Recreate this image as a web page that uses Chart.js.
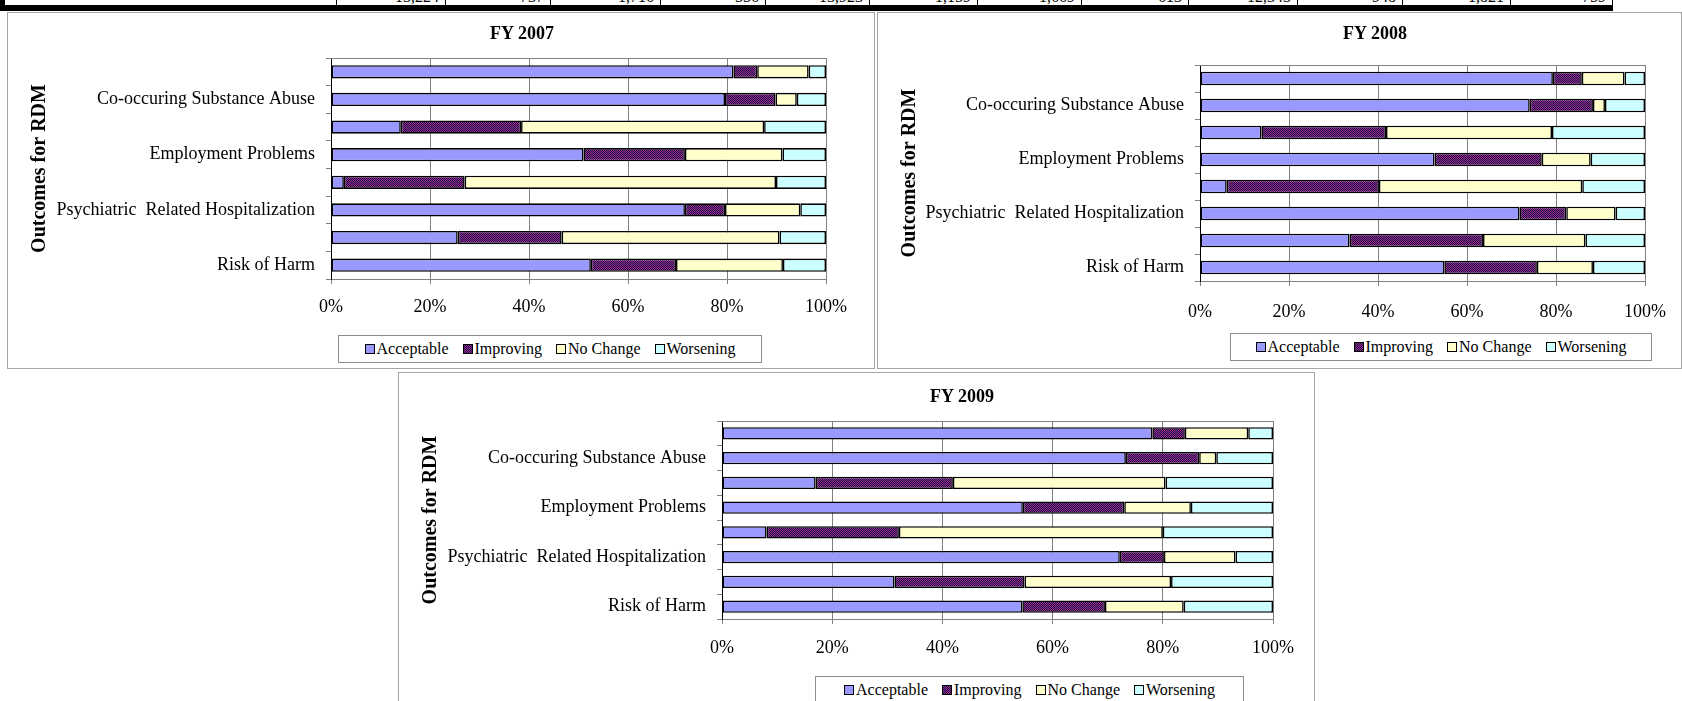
<!DOCTYPE html>
<html>
<head>
<meta charset="utf-8">
<script src="https://cdn.jsdelivr.net/npm/chart.js@4.4.1/dist/chart.umd.min.js"></script>
<style>
    body {
        margin: 0;
        width: 1682px;
        height: 701px;
        overflow: hidden;
        position: relative;
        background: #fff;
        font-family: "Liberation Serif", "Times New Roman", serif;
    }
    .frame {
        position: absolute;
        border: 1px solid #a6a6a6;
        box-sizing: border-box;
        background: #fff;
    }
    canvas { position: absolute; }
    .title {
        position: absolute;
        transform: translate(-50%, -50%);
        font-weight: bold;
        font-size: 18px;
        white-space: nowrap;
    }
    .legend {
        position: absolute;
        box-sizing: border-box;
        border: 1px solid #8c8c8c;
        background: #fff;
        display: flex;
        align-items: center;
        justify-content: center;
        gap: 14px;
        font-size: 16px;
    }
    .legend .item { display: flex; align-items: center; gap: 2px; }
    .legend .swatch { width: 8px; height: 8px; border: 1px solid #000; }
    #tableStrip {
        position: absolute;
        left: 0;
        top: 0;
        width: 1613px;
        height: 11px;
        box-sizing: border-box;
        border-left: 5px solid #000;
        border-bottom: 6px solid #000;
        overflow: hidden;
    }
    #tableStrip .cell {
        position: absolute;
        top: 0;
        height: 5px;
        box-sizing: border-box;
        border-right: 1px solid #000;
        overflow: hidden;
    }
    #tableStrip .cell span {
        position: absolute;
        right: 6px;
        top: -12px;
        font-size: 16px;
        line-height: 18px;
    }
</style>
</head>
<body>

<div id="tableStrip"></div>

<div class="frame" style="left:7px; top:12px; width:868px; height:357px;"></div>
<div class="frame" style="left:877px; top:12px; width:805px; height:357px;"></div>
<div class="frame" style="left:398px; top:372px; width:917px; height:340px;"></div>

<canvas id="chart2007" width="865" height="354" style="left:8px; top:13px;"></canvas>
<canvas id="chart2008" width="803" height="354" style="left:878px; top:13px;"></canvas>
<canvas id="chart2009" width="914" height="328" style="left:399px; top:373px;"></canvas>

<div class="title" style="left:522px; top:33px;">FY 2007</div>
<div class="title" style="left:1375px; top:33px;">FY 2008</div>
<div class="title" style="left:962px; top:396px;">FY 2009</div>

<div class="legend" id="legend2007" style="left:338px; top:335px; width:424px; height:28px;"></div>
<div class="legend" id="legend2008" style="left:1230px; top:333px; width:422px; height:28px;"></div>
<div class="legend" id="legend2009" style="left:815px; top:676px; width:429px; height:28px;"></div>

<script>
// ---- data ----
const categories = [
    "",
    "Co-occuring Substance Abuse",
    "",
    "Employment Problems",
    "",
    "Psychiatric  Related Hospitalization",
    "",
    "Risk of Harm",
];
const seriesNames = ["Acceptable", "Improving", "No Change", "Worsening"];
const xTicks = [0, 20, 40, 60, 80, 100];

const acceptable2007 = [81.3, 79.6, 14.1, 51.0, 2.6, 71.5, 25.6, 52.5];
const improving2007 = [4.8, 10.2, 24.3, 20.5, 24.4, 8.1, 21.0, 17.2];
const noChange2007 = [10.4, 4.3, 49.1, 19.7, 62.9, 15.2, 44.0, 21.6];
const worsening2007 = [3.5, 5.9, 12.5, 8.8, 10.1, 5.2, 9.4, 8.7];

const acceptable2008 = [79.3, 74.1, 13.8, 52.7, 6.0, 71.8, 33.6, 54.9];
const improving2008 = [6.5, 14.2, 28.0, 24.1, 34.2, 10.5, 30.0, 20.8];
const noChange2008 = [9.6, 2.7, 37.3, 11.0, 45.7, 11.1, 23.0, 12.6];
const worsening2008 = [4.6, 9.0, 20.9, 12.2, 14.1, 6.6, 13.4, 11.7];

const acceptable2009 = [78.1, 73.3, 17.0, 54.6, 8.1, 72.2, 31.3, 54.5];
const improving2009 = [5.9, 13.3, 24.9, 18.4, 24.0, 8.0, 23.6, 15.0];
const noChange2009 = [11.5, 3.1, 38.6, 12.1, 47.9, 13.0, 26.6, 14.3];
const worsening2009 = [4.5, 10.3, 19.5, 14.9, 20.0, 6.8, 18.5, 16.2];

// bottom edge of the table above the charts (cut off by the page)
const tableRow = ["13,224", "737", "1,716", "556", "13,923", "1,159", "1,669", "613", "12,343", "948", "1,821", "759"];
const tableColEdges = [337, 446, 551, 661, 766, 870, 978, 1082, 1189, 1298, 1403, 1511, 1613];

/* ==========================================================================
TABLE STRIP
========================================================================== */
const strip = document.getElementById("tableStrip");
tableRow.forEach((txt, i) => {
    const left = tableColEdges[i] - 5;
    const w = tableColEdges[i + 1] - tableColEdges[i];
    strip.innerHTML += `<div class="cell" style="left:${left}px; width:${w}px;"><span>${txt}</span></div>`;
});
strip.innerHTML += `<div class="cell" style="left:0; width:${tableColEdges[0] - 5}px;"></div>`;

/* ==========================================================================
CHARTS
========================================================================== */
Chart.defaults.font.family = "'Liberation Serif', 'Times New Roman', serif";
Chart.defaults.font.size = 18;
Chart.defaults.color = "#000";

// checkered fill used for "Improving"
const checkTile = document.createElement("canvas");
checkTile.width = 2;
checkTile.height = 2;
const tctx = checkTile.getContext("2d");
tctx.fillStyle = "#14145a";
tctx.fillRect(0, 0, 2, 2);
tctx.fillStyle = "#a0287a";
tctx.fillRect(0, 0, 1, 1);
tctx.fillRect(1, 1, 1, 1);

const plainColors = ["#9999ff", null, "#ffffcc", "#ccffff"];

const plotBorder = {
    id: "plotBorder",
    beforeDatasetsDraw(chart) {
        const { ctx, chartArea: a } = chart;
        ctx.save();
        ctx.strokeStyle = "#808080";
        ctx.lineWidth = 1;
        ctx.beginPath();
        ctx.moveTo(a.left, Math.round(a.top) + 0.5);
        ctx.lineTo(a.right, Math.round(a.top) + 0.5);
        ctx.stroke();
        ctx.restore();
    },
};

function makeChart(id, seriesValues, cfg) {
    const ctx = document.getElementById(id).getContext("2d");
    const pattern = ctx.createPattern(checkTile, "repeat");
    const fills = plainColors.map((c) => c || pattern);

    const chart = new Chart(ctx, {
        type: "bar",
        data: {
            labels: categories,
            datasets: seriesNames.map((name, i) => ({
                label: name,
                data: seriesValues[i],
                backgroundColor: fills[i],
                borderColor: "#000",
                borderWidth: 1.6,
                borderSkipped: false,
                barPercentage: cfg.bar,
                categoryPercentage: 1,
            })),
        },
        options: {
            indexAxis: "y",
            responsive: false,
            animation: false,
            devicePixelRatio: 1,
            layout: { padding: cfg.padding },
            plugins: {
                legend: { display: false },
                tooltip: { enabled: false },
            },
            scales: {
                x: {
                    stacked: true,
                    min: 0,
                    max: 100,
                    afterBuildTicks: (s) => {
                        s.ticks = xTicks.map((v) => ({ value: v }));
                    },
                    ticks: {
                        callback: (v) => v + "%",
                        padding: cfg.xPad,
                        maxRotation: 0,
                    },
                    grid: { color: "#808080", tickLength: 5 },
                    border: { color: "#808080" },
                    afterFit: (s) => {
                        s.height = 60;
                    },
                },
                y: {
                    stacked: true,
                    ticks: { padding: 11, autoSkip: false },
                    grid: { drawOnChartArea: false, color: "#808080", tickLength: 5 },
                    border: { color: "#000" },
                    title: {
                        display: true,
                        text: "Outcomes for RDM",
                        font: { size: 20, weight: "bold" },
                        padding: { top: 20, bottom: 0 },
                    },
                    afterFit: (s) => {
                        s.width = cfg.yWidth;
                    },
                },
            },
        },
        plugins: [plotBorder],
    });

    // legend in the same way as the dashboard donut
    const legendContainer = document.getElementById(cfg.legend);
    chart.data.datasets.forEach((ds, index) => {
        const bg = plainColors[index]
            ? `background:${plainColors[index]}`
            : `background-image:url(${checkTile.toDataURL()})`;
        legendContainer.innerHTML += `
<div class="item">
    <span class="swatch" style="${bg}"></span>
    <span>${ds.label}</span>
</div>`;
    });
    return chart;
}

makeChart("chart2007", [acceptable2007, improving2007, noChange2007, worsening2007], {
    yWidth: 323,
    padding: { top: 45, right: 47, bottom: 28, left: 0 },
    bar: 0.48,
    xPad: 12,
    legend: "legend2007",
});

makeChart("chart2008", [acceptable2008, improving2008, noChange2008, worsening2008], {
    yWidth: 322,
    padding: { top: 52, right: 24, bottom: 26, left: 0 },
    bar: 0.5,
    xPad: 15,
    legend: "legend2008",
});

makeChart("chart2009", [acceptable2009, improving2009, noChange2009, worsening2009], {
    yWidth: 323,
    padding: { top: 48, right: 40, bottom: 22, left: 0 },
    bar: 0.5,
    xPad: 13,
    legend: "legend2009",
});
</script>
</body>
</html>
